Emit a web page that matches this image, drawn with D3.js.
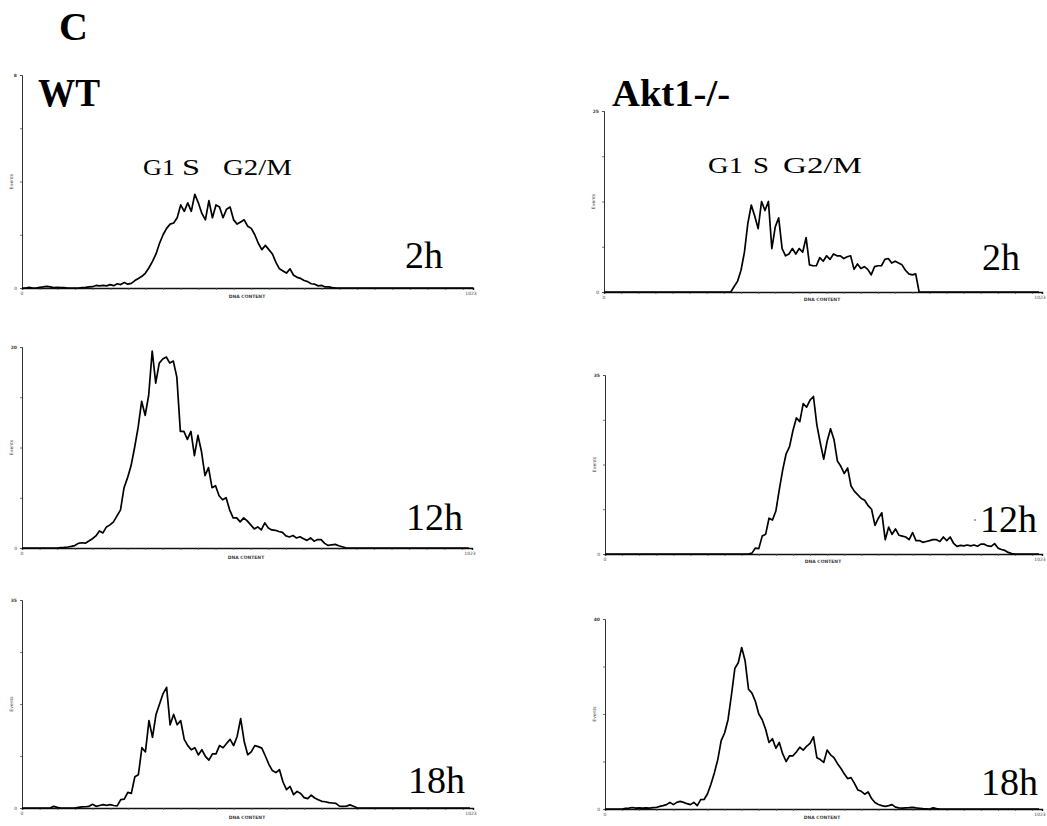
<!DOCTYPE html>
<html>
<head>
<meta charset="utf-8">
<script src="https://cdn.jsdelivr.net/npm/d3@7"></script>
<style>
  html, body { margin: 0; padding: 0; background: #fff; }
  svg { display: block; }
  .serif { font-family: "Liberation Serif", "Times New Roman", "DejaVu Serif", serif; }
  .tiny { font-family: "DejaVu Sans", "Liberation Sans", sans-serif; }
</style>
</head>
<body>
<svg id="chart" width="1047" height="826"></svg>
<script>
// ---------- DATA (Events, % of full scale, one value per 8 DNA-content channels) ----------
const binWidth = 8;
const channelMax = 1023;
const yTickValues = [0, 25, 50, 75, 100];
const xTickStep = 40;
const panelTitles = ["WT", "Akt1-/-"];
const timeLabels = ["2h", "12h", "18h", "2h", "12h", "18h"];
const phaseWords = ["G1", "S", "G2/M"];
const figureLetter = "C";
const xAxisTitle = "DNA CONTENT";
const yAxisTitle = "Events";
const xTickLabels = ["0", "1023"];
const yTopLabels = ["8", "20", "35", "25", "35", "40"];

const wt2h = [0,0,0.3,0,0,0.3,0.5,0.8,0.5,0.2,0.3,0.2,0.2,0,0,0,0,0.2,0.3,0.5,0.6,1.2,1.0,1.2,1.0,1.6,1.1,2.0,1.6,2.6,1.8,2.2,3.5,4.5,5.5,7.0,9.5,12.5,16,21,25,28,30,30.5,33,39,36,40,36,44,40,35,32,41,33,39,38,33,37,38,32,30,31,32,29,28,25,21,18,20,18,16,12,9,8,7,9,6,5,4.5,3.5,3,2,1.8,1.0,1.2,0.5,0.5,0.2,0,0,0,0,0,0,0,0,0,0,0,0,0,0,0,0,0,0,0,0,0,0,0,0,0,0,0,0,0,0,0,0,0,0,0,0,0,0,0,0];
const wt12h = [0,0,0,0,0,0,0,0,0,0,0,0.2,0.3,0.5,0.8,1.2,2.3,2.6,2.4,3.5,4.6,6,8.5,7.5,10.5,11.5,13,16,19,30,35,41,50,60,73,66,76,98,82,92,94,95,92,93,85,58,58,54,58,46,56,48,36,40,30,31,26,24,25,19,15,15,13,15,13.5,11.5,9.5,10.5,9,12.5,10,9,8.8,8.2,7.8,6,5.5,6.2,5,5.6,4.6,3.8,5,3.4,4.2,4.2,2.3,1.3,1.6,1.8,1.1,0.6,0.1,0,0,0,0,0,0,0,0,0,0,0,0,0,0,0,0,0,0,0,0,0,0,0,0,0,0,0,0,0,0,0,0,0,0,0];
const wt18h = [0,0,0,0,0,0,0,0,0,0.8,0.3,0,0,0,0,0,0.3,0.5,0.6,0.8,1.8,0.8,1.2,1.6,1.3,1.6,1.2,1.0,4,4.3,7.5,7,15,16,29,27,42,34,45,50,55,58,40,45,40,42,33,30,28,29,25.5,28,24.8,23,26,26,30,29,31,33,30,34.4,43,32,25.6,27,30,29.5,28.8,25,21,18,17,18.4,12.5,8.8,10.4,6.4,8,7,5,4.5,6.2,4.8,4,3.2,3,2.6,2.4,2.2,0.9,0.8,0.9,1.5,0.8,0.1,0,0,0,0,0,0,0,0,0,0,0,0,0,0,0,0,0,0,0,0,0,0,0,0,0,0,0,0,0,0,0,0];
const akt2h = [0,0,0,0,0,0,0,0,0,0,0,0,0,0,0,0,0,0,0,0,0,0,0,0,0,0,0,0,0,0,0,0,0,0,0,0,0,0,3,6,12,22,38,48,42,35,50,45,50,24,36,41,24,20,21,24,21,24,22,30,15,14.5,14.5,19,17,20,18,21,20,20,18.5,19.5,20,12.5,15.5,13,14,12.5,9.5,14,14.5,14.5,18,18.5,16,17,16,15,12,10,9.5,10,0,0,0,0,0,0,0,0,0,0,0,0,0,0,0,0,0,0,0,0,0,0,0,0,0,0,0,0,0,0,0,0,0,0,0,0];
const akt12h = [0,0,0,0,0,0,0,0,0,0,0,0,0,0,0,0,0,0,0,0,0,0,0,0,0,0,0,0,0,0,0,0,0,0,0,0,0,0,0,0,0,0,0,0.5,3.3,3,10,11,20,19,24,36,47,56,60,69,76,74,84,82,86,88,72,62,53,63,70,64,52,49,45,48,38,35,33,31,30,27,25,16,20,23,8,15,11,14,10.5,10,9.5,8,12,7.5,7.5,6.5,7,7.5,8,8,7,9.5,7.5,9.5,6,4.3,4.8,4.5,5,4.5,5,4.3,5.5,5.5,4.5,4.3,5.8,3.3,2.5,2,0.9,0.2,0,0,0,0,0,0,0,0];
const akt18h = [0,0,0,0,0,0,0.3,0.5,0.8,0.5,0.6,0.5,0.6,0.5,0.7,0.8,1.4,1.8,2.3,3.5,2.3,3.5,4,3.5,2.8,2.3,3.5,1.8,4.9,5,8,13,19,26,36,40,47,60,74,77,85,78,63,61,56.7,50,47,42,35,37,32,35,29,25,28,28,30,32.5,31,33,34.5,38,27,26,24.5,31,28.5,27,24,21.5,18.5,16,16.5,13.5,10,9.3,7.8,9,5.5,3.4,2.4,1.8,1.4,1.8,2.3,1,0.6,0.5,0.6,0.7,0.9,0.6,0.4,0.2,0.1,0,0.6,0.2,0,0,0,0,0,0,0,0,0,0,0,0,0,0,0,0,0,0,0,0,0,0,0,0,0,0,0,0,0,0];

const seriesList = [wt2h, wt12h, wt18h, akt2h, akt12h, akt18h];

// ---------- LAYOUT ----------
const layout = [
  { x0: 22,  x1: 473,  top: 75,  base: 288, label: [443, 268], xt: [247, 298] },
  { x0: 22,  x1: 472,  top: 347, base: 548, label: [463, 530], xt: [246, 559] },
  { x0: 22,  x1: 473,  top: 600, base: 808, label: [465, 793], xt: [247, 819] },
  { x0: 604, x1: 1042, top: 111, base: 292, label: [1020, 270], xt: [822, 301] },
  { x0: 605, x1: 1042, top: 375, base: 554, label: [1037, 532], xt: [823, 563] },
  { x0: 605, x1: 1042, top: 619, base: 809, label: [1038, 795], xt: [822, 819] }
];
// phase-word boxes [left, width] and baseline for the two columns
const phaseLayout = [
  { y: 175, boxes: [[143, 32], [182, 18], [223, 69]] },
  { y: 173, boxes: [[708, 35], [753, 16], [783, 79]] }
];

const svg = d3.select("#chart");

seriesList.forEach((vals, p) => {
  const L = layout[p];
  const x = d3.scaleLinear().domain([0, channelMax]).range([L.x0, L.x1]);
  const y = d3.scaleLinear().domain([0, 100]).range([L.base, L.top]);
  const g = svg.append("g");

  // x axis
  const xTicks = d3.range(0, channelMax + 1, xTickStep);
  const xAxis = d3.axisBottom(x).tickValues(xTicks).tickSize(2).tickFormat("");
  const gx = g.append("g").attr("transform", `translate(0,${L.base})`).call(xAxis);
  gx.select(".domain").attr("stroke", "#111").attr("stroke-width", 1.4);
  gx.selectAll(".tick line").attr("stroke", "#555").attr("stroke-width", 0.8);

  // y axis
  const yAxis = d3.axisLeft(y).tickValues(yTickValues).tickSize(2).tickFormat("");
  const gy = g.append("g").attr("transform", `translate(${L.x0},0)`).call(yAxis);
  gy.select(".domain").attr("stroke", "#333").attr("stroke-width", 1);
  gy.selectAll(".tick line").attr("stroke", "#555").attr("stroke-width", 0.8);

  // tiny tick labels
  const tiny = (tx, ty, anchor, txt, w) => g.append("text").attr("class", "tiny")
    .attr("x", tx).attr("y", ty).attr("text-anchor", anchor)
    .attr("font-size", 4.5).attr("font-weight", w || "normal").attr("fill", "#444").text(txt);
  tiny(x(0), L.base + 7, "middle", xTickLabels[0]);
  tiny(x(channelMax) - 2, L.base + 7, "middle", xTickLabels[1]);
  tiny(L.x0 - 5, y(100) + 1.5, "end", yTopLabels[p], "bold");
  tiny(L.x0 - 5, y(0) + 1.5, "end", "0");
  tiny(L.xt[0], L.xt[1], "middle", xAxisTitle, "bold");

  const ym = (L.top + L.base) / 2;
  g.append("text").attr("class", "tiny").attr("transform", `translate(${L.x0 - 9},${ym}) rotate(-90)`)
    .attr("text-anchor", "middle").attr("font-size", 4.5).attr("fill", "#333").text(yAxisTitle);

  // histogram trace
  const line = d3.line()
    .x((d, i) => x(i * binWidth))
    .y(d => y(d))
    .curve(d3.curveLinear);
  g.append("path").datum(vals)
    .attr("d", line)
    .attr("fill", "none")
    .attr("stroke", "#000")
    .attr("stroke-width", 1.7)
    .attr("stroke-linejoin", "round");

  // time label
  g.append("text").attr("class", "serif").attr("x", L.label[0]).attr("y", L.label[1])
    .attr("text-anchor", "end").attr("font-size", 38).attr("fill", "#000").text(timeLabels[p]);
});

// figure letter and titles
svg.append("text").attr("class", "serif").attr("x", 59).attr("y", 40)
  .attr("font-size", 40).attr("font-weight", "bold").text(figureLetter);
svg.append("text").attr("class", "serif").attr("x", 38).attr("y", 106)
  .attr("font-size", 40).attr("font-weight", "bold")
  .attr("textLength", 62).attr("lengthAdjust", "spacingAndGlyphs").text(panelTitles[0]);
svg.append("text").attr("class", "serif").attr("x", 612).attr("y", 106)
  .attr("font-size", 38).attr("font-weight", "bold")
  .attr("textLength", 118).attr("lengthAdjust", "spacingAndGlyphs").text(panelTitles[1]);

// phase labels
phaseLayout.forEach(P => {
  phaseWords.forEach((w, i) => {
    svg.append("text").attr("class", "serif")
      .attr("x", P.boxes[i][0]).attr("y", P.y)
      .attr("font-size", 23)
      .attr("textLength", P.boxes[i][1]).attr("lengthAdjust", "spacingAndGlyphs")
      .text(w);
  });
});

// small stray dot before Akt 12h label
svg.append("circle").attr("cx", 975).attr("cy", 520).attr("r", 0.8).attr("fill", "#333");
</script>
</body>
</html>
